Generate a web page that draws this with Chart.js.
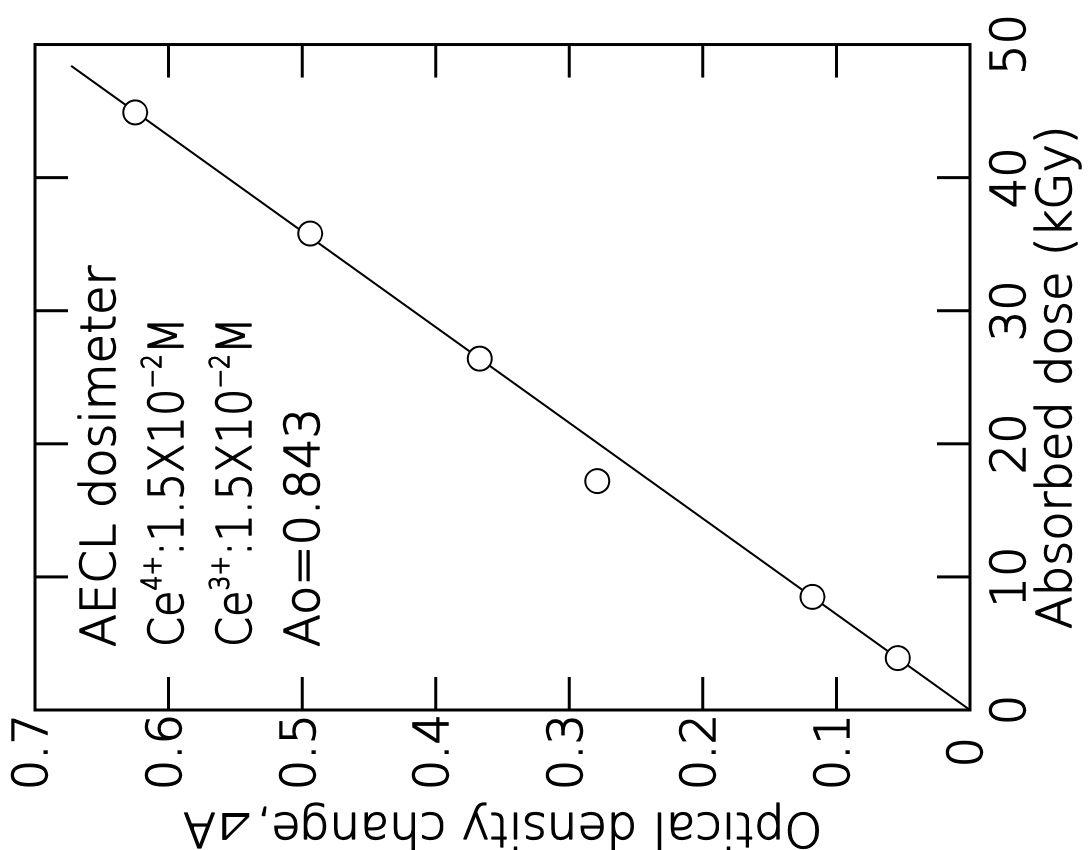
<!DOCTYPE html>
<html>
<head>
<meta charset="utf-8">
<script src="https://cdn.jsdelivr.net/npm/chart.js@4.4.1/dist/chart.umd.min.js"></script>
<style>
  html, body { margin: 0; padding: 0; background: #fff; overflow: hidden; }
  /* the figure is printed sideways: draw it upright, then turn the whole box */
  #wrap {
    position: absolute; left: 0; top: 0;
    width: 850px; height: 1088px;
    transform-origin: 0 0;
    transform: translate(0, 850px) rotate(-90deg);
  }
</style>
</head>
<body>
<div id="wrap"><canvas id="doseChart" width="850" height="1088"></canvas></div>
<script>
// measured points (absorbed dose kGy, optical density change)
const doseVals = [3.9, 8.5, 17.2, 26.4, 35.8, 44.9];
const odVals = [0.054, 0.118, 0.279, 0.367, 0.494, 0.625];

// fitted straight line
const fitDose = [0, 48.4];
const fitOD = [0, 0.673];

// tick labels and axis titles
const doseTicks = ['0', '10', '20', '30', '40', '50'];
const odTicks = ['0', '0.1', '0.2', '0.3', '0.4', '0.5', '0.6', '0.7'];
const doseTitle = 'Absorbed dose (kGy)';
// [text, needs the regular face?] - the thin face has no right-triangle glyph
const odTitle = [['Optical density change,', false], ['\u22BF', true], ['A', false]];

// text written inside the frame: [text, superscript?]
const noteLines = [
  [['AECL dosimeter', false]],
  [['Ce', false], ['4+', true], [':1.5X10', false], ['\u22122', true], ['M', false]],
  [['Ce', false], ['3+', true], [':1.5X10', false], ['\u22122', true], ['M', false]],
  [['Ao=0.843', false]]
];

const FONT = '"DejaVu Sans", sans-serif';
const INK = 1.3;          // extra stroke on the thin face, plotter-pen weight
const TICK_LEN = 33;
// the Ce lines are set tighter in the original
const NOTE_FIT = [0, 330, 330, 0];

function inkText(ctx, txt, x, y) {
  ctx.strokeText(txt, x, y);
  ctx.fillText(txt, x, y);
}

// frame with inward ticks on all four sides
const frameTicks = {
  id: 'frameTicks',
  afterDatasetsDraw(chart) {
    const { ctx, chartArea: a, scales: { x, y } } = chart;
    ctx.save();
    ctx.strokeStyle = '#000';
    ctx.lineWidth = 3;
    ctx.strokeRect(a.left, a.top, a.right - a.left, a.bottom - a.top);
    ctx.beginPath();
    x.ticks.forEach(t => {
      if (t.value <= x.min || t.value >= x.max) return;
      const px = x.getPixelForValue(t.value);
      ctx.moveTo(px, a.bottom); ctx.lineTo(px, a.bottom - TICK_LEN);
      ctx.moveTo(px, a.top); ctx.lineTo(px, a.top + TICK_LEN);
    });
    y.ticks.forEach(t => {
      if (t.value <= y.min + 1e-9 || t.value >= y.max - 1e-9) return;
      const py = y.getPixelForValue(t.value);
      ctx.moveTo(a.left, py); ctx.lineTo(a.left + TICK_LEN, py);
      ctx.moveTo(a.right, py); ctx.lineTo(a.right - TICK_LEN, py);
    });
    ctx.stroke();
    ctx.restore();
  }
};

// axis titles and the note block, drawn with the same pen weight as the ticks
const textLayer = {
  id: 'textLayer',
  afterDraw(chart) {
    const { ctx, chartArea: a } = chart;
    ctx.save();
    ctx.fillStyle = '#000';
    ctx.strokeStyle = '#000';
    ctx.lineWidth = INK;
    ctx.lineJoin = 'round';

    ctx.font = '300 48px ' + FONT;
    ctx.textAlign = 'center';
    ctx.textBaseline = 'middle';
    inkText(ctx, doseTitle, (a.left + a.right) / 2, chart.height - 29);

    // vertical title, pieced together so the triangle comes from the regular face
    const titleFont = reg => { ctx.font = (reg ? '400 48px ' : '300 48px ') + FONT; };
    let tw = 0;
    odTitle.forEach(([txt, reg]) => { titleFont(reg); tw += ctx.measureText(txt).width; });
    ctx.save();
    ctx.translate(25, (a.top + a.bottom) / 2);
    ctx.rotate(-Math.PI / 2);
    ctx.textAlign = 'left';
    let tx = -tw / 2;
    odTitle.forEach(([txt, reg]) => {
      titleFont(reg);
      if (reg) ctx.fillText(txt, tx, 0); else inkText(ctx, txt, tx, 0);
      tx += ctx.measureText(txt).width;
    });
    ctx.restore();

    const setFont = sup => { ctx.font = (sup ? '300 26px ' : '300 48px ') + FONT; };
    ctx.textAlign = 'left';
    ctx.textBaseline = 'alphabetic';
    noteLines.forEach((line, i) => {
      // natural width first, so a line can be squeezed to the original's length
      let total = 0;
      line.forEach(([txt, sup]) => { setFont(sup); total += ctx.measureText(txt).width; });
      const k = NOTE_FIT[i] ? Math.min(1, NOTE_FIT[i] / total) : 1;
      ctx.save();
      ctx.translate(a.left + 63, a.top + 80 + i * 68);
      ctx.scale(k, 1);
      let x = 0;
      line.forEach(([txt, sup]) => {
        setFont(sup);
        inkText(ctx, txt, x, sup ? -22 : 0);
        x += ctx.measureText(txt).width;
      });
      ctx.restore();
    });
    ctx.restore();
  }
};

Chart.defaults.font.family = FONT;
Chart.defaults.font.weight = 300;
Chart.defaults.color = '#000';

const ctx = document.getElementById('doseChart').getContext('2d');
new Chart(ctx, {
  type: 'scatter',
  data: {
    datasets: [
      {
        label: 'measured',
        data: doseVals.map((d, i) => ({ x: d, y: odVals[i] })),
        showLine: false,
        pointRadius: 12,
        pointBorderWidth: 2,
        pointBackgroundColor: '#fff',
        pointBorderColor: '#000',
        order: 0
      },
      {
        label: 'fit',
        data: fitDose.map((d, i) => ({ x: d, y: fitOD[i] })),
        showLine: true,
        borderColor: '#000',
        borderWidth: 2,
        pointRadius: 0,
        order: 1
      }
    ]
  },
  options: {
    responsive: false,
    animation: false,
    layout: { padding: { left: 0, top: 35, right: 40, bottom: 0 } },
    scales: {
      x: {
        type: 'linear',
        position: 'bottom',
        min: 0,
        max: 50,
        grid: { display: false, drawTicks: false },
        border: { display: false },
        ticks: {
          stepSize: 10,
          padding: 14,
          maxRotation: 0,
          autoSkip: false,
          font: { size: 48, weight: 300 },
          textStrokeColor: '#000',
          textStrokeWidth: INK,
          callback: (v, i) => doseTicks[i] ?? v
        },
        afterFit(s) { s.height = 118; }
      },
      y: {
        type: 'linear',
        min: 0,
        max: 0.7,
        grid: { display: false, drawTicks: false },
        border: { display: false },
        ticks: {
          stepSize: 0.1,
          padding: 4,
          crossAlign: 'center',
          autoSkip: false,
          font: { size: 48, weight: 300 },
          textStrokeColor: '#000',
          textStrokeWidth: INK,
          callback: (v, i) => odTicks[i] ?? v
        },
        afterFit(s) { s.width = 140; }
      }
    },
    plugins: {
      legend: { display: false },
      tooltip: { enabled: false }
    }
  },
  plugins: [frameTicks, textLayer]
});
</script>
</body>
</html>
